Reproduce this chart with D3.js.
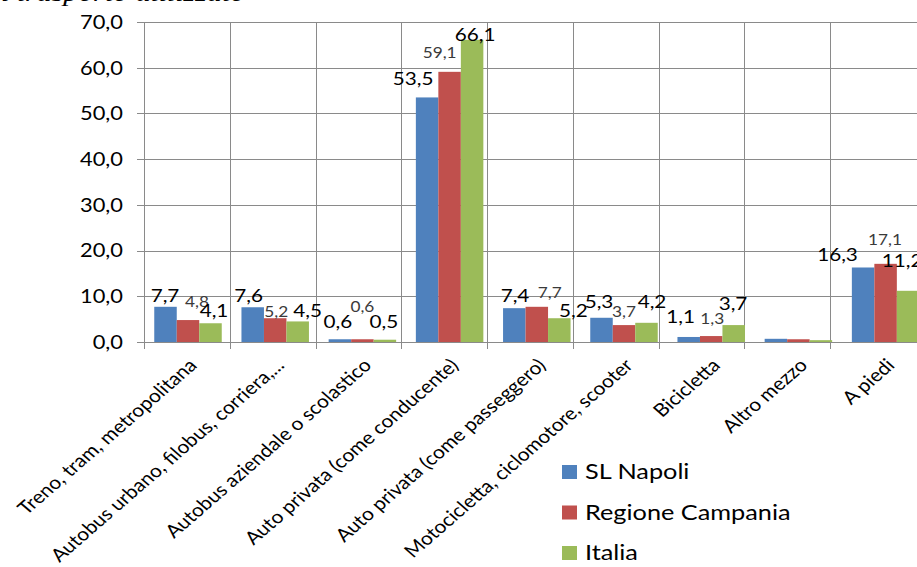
<!DOCTYPE html>
<html>
<head>
<meta charset="utf-8">
<script src="https://cdn.jsdelivr.net/npm/d3@7"></script>
<style>
  html, body { margin: 0; padding: 0; background: #fff; }
  svg { display: block; }
  text { font-family: Lato, "Open Sans", sans-serif; }
</style>
</head>
<body>
<svg id="chart" width="917" height="567"></svg>
<script>
// Mezzo di trasporto utilizzato (%)
const categories = [
  "Treno, tram, metropolitana",
  "Autobus urbano, filobus, corriera,...",
  "Autobus aziendale o scolastico",
  "Auto privata (come conducente)",
  "Auto privata (come passeggero)",
  "Motocicletta, ciclomotore, scooter",
  "Bicicletta",
  "Altro mezzo",
  "A piedi"
];
const seriesNames = ["SL Napoli", "Regione Campania", "Italia"];
const slNapoli        = [7.7, 7.6, 0.6, 53.5, 7.4, 5.3, 1.1, 0.7, 16.3];
const regioneCampania = [4.8, 5.2, 0.6, 59.1, 7.7, 3.7, 1.3, 0.6, 17.1];
const italia          = [4.1, 4.5, 0.5, 66.1, 5.2, 4.2, 3.7, 0.4, 11.2];
const yTicks = [0, 10, 20, 30, 40, 50, 60, 70];
// categories whose bars carry no value label
const unlabelled = ["Altro mezzo"];

const seriesValues = [slNapoli, regioneCampania, italia];
const colors = ["#4F81BD", "#C0504D", "#9BBB59"];
const fmt = v => d3.format(".1f")(v).replace(".", ",");
const SX = 1.15; // horizontal text stretch

// hand-placed nudges of each value label relative to its bar top [dx, dy]
const labelNudge = [
  [[-0.5,-4.8],[9,-13],[3.5,-6]],
  [[-4,-5],[1,-1],[10,-4.5]],
  [[-2,-11],[0,-27],[-1,-12]],
  [[-14,-12],[-10,-14],[3,1]],
  [[0.7,-6],[13,-9],[14,-1]],
  [[-2.5,-10],[0,-8],[5.5,-15]],
  [[-8,-14],[1,-12],[-0.7,-15]],
  [[0,0],[0,0],[0,0]],
  [[-25.6,-6.5],[-0.6,-19],[-6,-24]]
];
// Regione Campania labels are set smaller and grey
const labelStyle = [
  {size: 18, color: "#000"},
  {size: 15, color: "#3a3a3a"},
  {size: 18, color: "#000"}
];

const svg = d3.select("#chart");

const y = d3.scaleLinear().domain([0, 70]).range([342, 22]);
const x0 = d3.scaleBand().domain(categories).range([144.4, 144.4 + 9 * 87.2]);
const x1 = d3.scaleBand().domain(seriesNames).range([0, x0.bandwidth()]).paddingOuter(0.438);
// plot-area frame divisions
const gx = d3.scaleLinear().domain([0, categories.length]).range([144.3, 915.6]);

const grid = svg.append("g").attr("stroke", "#8a8a8a").attr("stroke-width", 1).attr("shape-rendering", "crispEdges");
grid.selectAll("line.h").data(yTicks).join("line")
  .attr("x1", 137).attr("x2", 917)
  .attr("y1", d => Math.round(y(d)) + 0.5).attr("y2", d => Math.round(y(d)) + 0.5);
grid.selectAll("line.v").data(d3.range(categories.length)).join("line")
  .attr("x1", d => Math.round(gx(d)) + 0.5).attr("x2", d => Math.round(gx(d)) + 0.5)
  .attr("y1", y(70)).attr("y2", y(0) + 7);

// y axis labels
svg.append("g").selectAll("text").data(yTicks).join("text")
  .attr("transform", d => `translate(123,${y(d)}) scale(${SX},1)`)
  .attr("text-anchor", "end").attr("dy", "0.36em")
  .attr("font-size", 19).attr("fill", "#000")
  .text(fmt);

// bars
const groups = svg.append("g").selectAll("g").data(categories).join("g")
  .attr("transform", d => `translate(${x0(d)},0)`);
groups.selectAll("rect").data((c, i) => seriesNames.map((s, k) => ({s, k, v: seriesValues[k][i]})))
  .join("rect")
  .attr("x", d => x1(d.s)).attr("width", x1.bandwidth())
  .attr("y", d => y(d.v)).attr("height", d => y(0) - y(d.v))
  .attr("fill", d => colors[d.k]);

// value labels
groups.filter(c => !unlabelled.includes(c))
  .selectAll("text").data(c => {
    const i = categories.indexOf(c);
    return seriesNames.map((s, k) => ({s, k, i, v: seriesValues[k][i]}));
  })
  .join("text")
  .attr("transform", d => {
    const n = labelNudge[d.i][d.k];
    return `translate(${x1(d.s) + x1.bandwidth() / 2 + n[0]},${y(d.v) + n[1]}) scale(${SX},1)`;
  })
  .attr("text-anchor", "middle")
  .attr("font-size", d => labelStyle[d.k].size)
  .attr("fill", d => labelStyle[d.k].color)
  .text(d => fmt(d.v));

// category labels
svg.append("g").selectAll("text").data(categories).join("text")
  .attr("transform", d => `translate(${x0(d) + x0.bandwidth() / 2 + 5},362) scale(${SX},1) rotate(-45)`)
  .attr("text-anchor", "end").attr("dy", "0.35em")
  .attr("font-size", 18.2).attr("fill", "#000")
  .text(d => d);

// legend
const legend = svg.append("g").selectAll("g").data(seriesNames).join("g")
  .attr("transform", (d, k) => `translate(562,${465 + k * 40.5})`);
legend.append("rect").attr("width", 15).attr("height", 14).attr("fill", (d, k) => colors[k]);
legend.append("text")
  .attr("transform", `translate(23,14) scale(${SX},1)`)
  .attr("font-size", 22).attr("fill", "#000")
  .text(d => d);

// heading, mostly above the top edge
svg.append("text")
  .attr("transform", `translate(245,1) scale(${SX},1)`)
  .attr("text-anchor", "end")
  .style("font-family", "'Liberation Serif', serif").style("font-style", "italic")
  .attr("font-size", 26).attr("fill", "#000")
  .text("Mezzo di trasporto utilizzato");
</script>
</body>
</html>
